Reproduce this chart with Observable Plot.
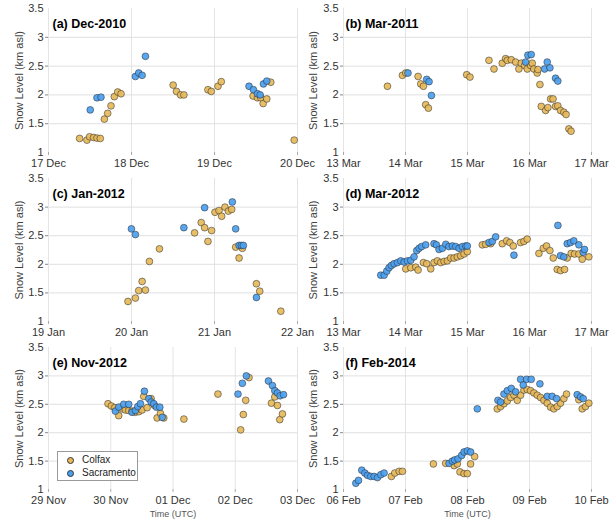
<!DOCTYPE html>
<html>
<head>
<meta charset="utf-8">
<script src="https://cdn.jsdelivr.net/npm/d3@7"></script>
<script src="https://cdn.jsdelivr.net/npm/@observablehq/plot@0.6"></script>
<style>
  body { margin: 0; background: #fff; }
  #chart { position: relative; width: 613px; height: 521px; overflow: hidden; font-family: "Liberation Sans", Arial, sans-serif; }
  .cell { position: absolute; }
  .legend { position: absolute; left: 57px; top: 451px; width: 79px; height: 28px; border: 1px solid #9a9a9a; background: #fff; font-size: 10px; color: #222; }
  .legend .row { position: absolute; left: 0; height: 12px; line-height: 12px; }
  .legend .sw { position: absolute; left: 9px; top: 3px; width: 5px; height: 5px; border-radius: 50%; border: 0.6px solid #333; }
  .legend .lab { position: absolute; left: 24px; top: 0; white-space: nowrap; }
</style>
</head>
<body>
<div id="chart"></div>
<script>
// ---- data: [day offset from panel start (UTC), snow level km asl] ----
const seriesNames = ["Colfax", "Sacramento"];
const seriesColors = ["#e6b95a", "#4ba0f0"];
const yTicks = [1, 1.5, 2, 2.5, 3, 3.5];

const titles = ["(a) Dec-2010", "(b) Mar-2011", "(c) Jan-2012", "(d) Mar-2012", "(e) Nov-2012", "(f) Feb-2014"];
const startDates = ["2010-12-17", "2011-03-13", "2012-01-19", "2012-03-13", "2012-11-29", "2014-02-06"];
const spanDays = [3, 4, 3, 4, 4, 4];

const colfaxA = [[0.375,1.244],[0.463,1.215],[0.495,1.273],[0.544,1.26],[0.584,1.25],[0.624,1.244],[0.673,1.58],[0.713,1.68],[0.753,1.81],[0.793,1.97],[0.834,2.05],[0.874,2.02],[1.502,2.17],[1.542,2.06],[1.591,2.0],[1.631,2.0],[1.921,2.09],[1.961,2.06],[2.042,2.15],[2.082,2.23],[2.465,1.98],[2.517,1.95],[2.557,1.95],[2.586,1.85],[2.63,1.93],[2.678,2.22],[2.96,1.215]];
const sacA = [[0.503,1.74],[0.584,1.95],[0.632,1.96],[1.047,2.32],[1.087,2.38],[1.128,2.34],[1.168,2.67],[2.416,2.15],[2.469,2.09],[2.517,2.02],[2.55,2.0],[2.59,2.19],[2.63,2.24]];

const colfaxB = [[0.709,2.15],[0.95,2.34],[1.004,2.38],[1.203,2.32],[1.246,2.19],[1.289,2.15],[1.326,1.83],[1.369,1.77],[1.987,2.35],[2.04,2.31],[2.346,2.6],[2.427,2.45],[2.561,2.55],[2.615,2.63],[2.642,2.6],[2.706,2.61],[2.776,2.57],[2.829,2.45],[2.867,2.55],[2.921,2.51],[2.964,2.45],[3.017,2.51],[3.044,2.55],[3.07,2.45],[3.124,2.38],[3.136,2.44],[3.168,2.18],[3.19,1.8],[3.26,1.73],[3.297,1.78],[3.34,1.93],[3.38,1.93],[3.42,1.8],[3.457,1.81],[3.5,1.73],[3.554,1.7],[3.59,1.66],[3.635,1.41],[3.67,1.37]];
const sacB = [[1.04,2.38],[1.342,2.27],[1.38,2.23],[1.418,1.99],[2.937,2.57],[2.974,2.69],[3.028,2.7],[3.243,2.45],[3.286,2.57],[3.329,2.47],[3.42,2.29],[3.457,2.24]];

const colfaxC = [[0.958,1.35],[1.047,1.41],[1.087,1.54],[1.128,1.7],[1.168,1.55],[1.216,2.05],[1.337,2.27],[1.76,2.55],[1.84,2.73],[1.881,2.64],[1.921,2.4],[1.965,2.59],[2.006,2.91],[2.054,2.94],[2.086,2.84],[2.126,3.0],[2.167,2.93],[2.207,2.96],[2.255,2.3],[2.296,2.11],[2.336,2.28],[2.505,1.66],[2.545,1.53],[2.799,1.18]];
const sacC = [[0.999,2.62],[1.047,2.52],[1.631,2.64],[1.881,2.99],[2.215,3.09],[2.255,2.62],[2.296,2.33],[2.324,2.33],[2.348,2.33],[2.505,1.42]];

const colfaxD = [[1.004,1.92],[1.085,1.94],[1.165,1.95],[1.203,1.9],[1.289,2.03],[1.342,2.01],[1.407,1.92],[1.46,2.03],[1.514,2.06],[1.568,2.03],[1.622,2.05],[1.675,2.06],[1.729,2.11],[1.783,2.11],[1.836,2.13],[1.89,2.15],[1.944,2.18],[1.997,2.22],[2.239,2.34],[2.293,2.35],[2.373,2.36],[2.561,2.36],[2.631,2.41],[2.684,2.38],[2.738,2.32],[2.856,2.38],[2.91,2.4],[2.963,2.44],[3.152,2.19],[3.222,2.28],[3.275,2.32],[3.329,2.24],[3.383,2.11],[3.447,1.91],[3.5,1.89],[3.565,1.91],[3.608,2.11],[3.672,2.19],[3.726,2.18],[3.796,2.18],[3.85,2.09],[3.957,2.13]];
const sacD = [[0.601,1.81],[0.655,1.81],[0.698,1.88],[0.735,1.94],[0.773,1.98],[0.816,2.01],[0.87,2.03],[0.923,2.06],[0.977,2.04],[1.031,2.06],[1.085,2.07],[1.138,2.13],[1.181,2.24],[1.219,2.28],[1.26,2.31],[1.326,2.34],[1.46,2.36],[1.498,2.34],[1.541,2.26],[1.595,2.28],[1.65,2.35],[1.7,2.31],[1.756,2.32],[1.81,2.31],[1.863,2.28],[1.917,2.31],[1.971,2.32],[1.997,2.32],[2.346,2.38],[2.4,2.4],[2.454,2.48],[2.749,2.16],[3.458,2.68],[3.5,2.15],[3.554,2.13],[3.608,2.36],[3.66,2.38],[3.715,2.41],[3.796,2.34],[3.866,2.21],[3.887,2.26]];

const colfaxE = [[0.956,2.51],[1.009,2.47],[1.063,2.44],[1.128,2.3],[1.181,2.42],[1.235,2.4],[1.289,2.39],[1.342,2.38],[1.396,2.36],[1.45,2.37],[1.503,2.4],[1.53,2.64],[1.584,2.44],[1.648,2.6],[1.702,2.48],[1.745,2.26],[1.799,2.34],[1.852,2.26],[2.175,2.24],[2.722,2.68],[3.087,2.05],[3.13,2.32],[3.168,2.57],[3.221,2.97],[3.581,2.52],[3.635,2.63],[3.678,2.48],[3.715,2.23],[3.758,2.33]];
const sacE = [[1.074,2.38],[1.128,2.45],[1.208,2.5],[1.289,2.5],[1.342,2.36],[1.396,2.39],[1.434,2.46],[1.477,2.51],[1.541,2.73],[1.611,2.6],[1.648,2.54],[1.691,2.51],[1.734,2.45],[1.788,2.45],[1.826,2.27],[3.044,2.68],[3.114,2.87],[3.178,3.0],[3.533,2.91],[3.597,2.83],[3.635,2.74],[3.678,2.7],[3.721,2.65],[3.775,2.67]];

const colfaxF = [[0.773,1.23],[0.827,1.29],[0.897,1.32],[0.95,1.32],[1.45,1.45],[1.648,1.46],[1.783,1.42],[1.836,1.45],[1.879,1.31],[1.944,1.28],[1.997,1.28],[2.05,1.45],[2.115,1.58],[2.48,2.42],[2.534,2.46],[2.588,2.51],[2.642,2.56],[2.695,2.62],[2.749,2.66],[2.803,2.57],[2.856,2.66],[2.91,2.75],[2.963,2.76],[3.017,2.74],[3.071,2.7],[3.124,2.66],[3.178,2.62],[3.232,2.57],[3.286,2.52],[3.34,2.45],[3.393,2.42],[3.447,2.46],[3.5,2.52],[3.554,2.6],[3.597,2.68],[3.796,2.58],[3.85,2.42],[3.903,2.46],[3.957,2.52]];
const sacF = [[0.199,1.11],[0.242,1.16],[0.295,1.34],[0.344,1.29],[0.387,1.25],[0.44,1.23],[0.494,1.23],[0.548,1.21],[0.601,1.26],[0.655,1.29],[1.702,1.46],[1.756,1.5],[1.793,1.52],[1.847,1.54],[1.906,1.6],[1.944,1.66],[1.997,1.68],[2.05,1.66],[2.158,2.42],[2.491,2.57],[2.534,2.54],[2.588,2.68],[2.642,2.74],[2.706,2.78],[2.776,2.72],[2.856,2.94],[2.899,2.84],[2.953,2.94],[3.028,2.94],[3.168,2.86],[3.286,2.64],[3.366,2.64],[3.436,2.6],[3.769,2.67],[3.823,2.63],[3.866,2.6]];

const colfaxSeries = [colfaxA, colfaxB, colfaxC, colfaxD, colfaxE, colfaxF];
const sacSeries = [sacA, sacB, sacC, sacD, sacE, sacF];

// ---- layout (not data) ----
const FONT = '"Liberation Sans", Arial, sans-serif';
const colLeft = [0, 300], colMarginL = [48, 43], colMarginR = [9, 15], titleDx = [4, 2], ylabDx = [-29, -30];
const rowTop = [0, 170, 339], rowHeight = [172, 171, 182], rowMarginB = [20, 20, 32];

const chart = document.getElementById("chart");
const fmt = d3.utcFormat("%d %b");

titles.forEach((title, i) => {
  const col = i % 2, row = Math.floor(i / 2);
  const t0 = new Date(startDates[i] + "T00:00:00Z");
  const toDate = d => new Date(+t0 + d * 864e5);
  const days = d3.range(spanDays[i] + 1).map(toDate);
  const pts = [
    ...colfaxSeries[i].map(([d, v]) => ({t: toDate(d), v, s: seriesNames[0]})),
    ...sacSeries[i].map(([d, v]) => ({t: toDate(d), v, s: seriesNames[1]}))
  ];
  const marks = [
    Plot.gridX(days, {stroke: "#e4e4e4", strokeOpacity: 1}),
    Plot.gridY([1.5, 2, 2.5, 3], {stroke: "#e0e0e0", strokeOpacity: 1}),
    Plot.axisX(days, {tickSize: 3, tickPadding: 4, tickFormat: fmt, stroke: "#aaa", fill: "#333", fontSize: 11, label: null}),
    Plot.axisY([1.5, 2, 2.5, 3], {tickSize: 3, tickFormat: () => "", stroke: "#888", label: null}),
    Plot.axisY(yTicks, {tickSize: 0, tickPadding: 5, tickFormat: d => String(d), fill: "#333", fontSize: 11, label: null}),
    Plot.dot(pts, {x: "t", y: "v", fill: "s", r: 3.4, fillOpacity: 0.92, stroke: "#2a2a2a", strokeWidth: 0.7, strokeOpacity: 0.75}),
    Plot.text([title], {frameAnchor: "top-left", dx: titleDx[col], dy: 15, lineAnchor: "middle", textAnchor: "start", fontWeight: "bold", fontSize: 12.5, fill: "#000"}),
    Plot.text(["Snow Level (km asl)"], {frameAnchor: "left", rotate: -90, dx: ylabDx[col], textAnchor: "middle", lineAnchor: "middle", fontSize: 11, fill: "#404040"})
  ];
  if (row === 2) marks.push(Plot.text(["Time (UTC)"], {frameAnchor: "bottom", dy: 25, textAnchor: "middle", lineAnchor: "middle", fontSize: 9, fill: "#555"}));
  const svg = Plot.plot({
    width: 306,
    height: rowHeight[row],
    marginLeft: colMarginL[col],
    marginRight: colMarginR[col],
    marginTop: 8,
    marginBottom: rowMarginB[row],
    x: {type: "utc", domain: [days[0], days[days.length - 1]]},
    y: {domain: [1, 3.5]},
    color: {domain: seriesNames, range: seriesColors},
    style: {fontFamily: FONT, background: "transparent", overflow: "visible", maxWidth: "none"},
    marks
  });
  const cell = document.createElement("div");
  cell.className = "cell";
  cell.style.left = colLeft[col] + "px";
  cell.style.top = rowTop[row] + "px";
  cell.appendChild(svg);
  chart.appendChild(cell);
});

// legend (panel e)
const legend = document.createElement("div");
legend.className = "legend";
seriesNames.forEach((name, k) => {
  const r = document.createElement("div");
  r.className = "row";
  r.style.top = (2 + k * 12.5) + "px";
  r.style.width = "79px";
  r.innerHTML = `<span class="sw" style="background:${seriesColors[k]}"></span><span class="lab">${name}</span>`;
  legend.appendChild(r);
});
chart.appendChild(legend);
</script>
</body>
</html>
